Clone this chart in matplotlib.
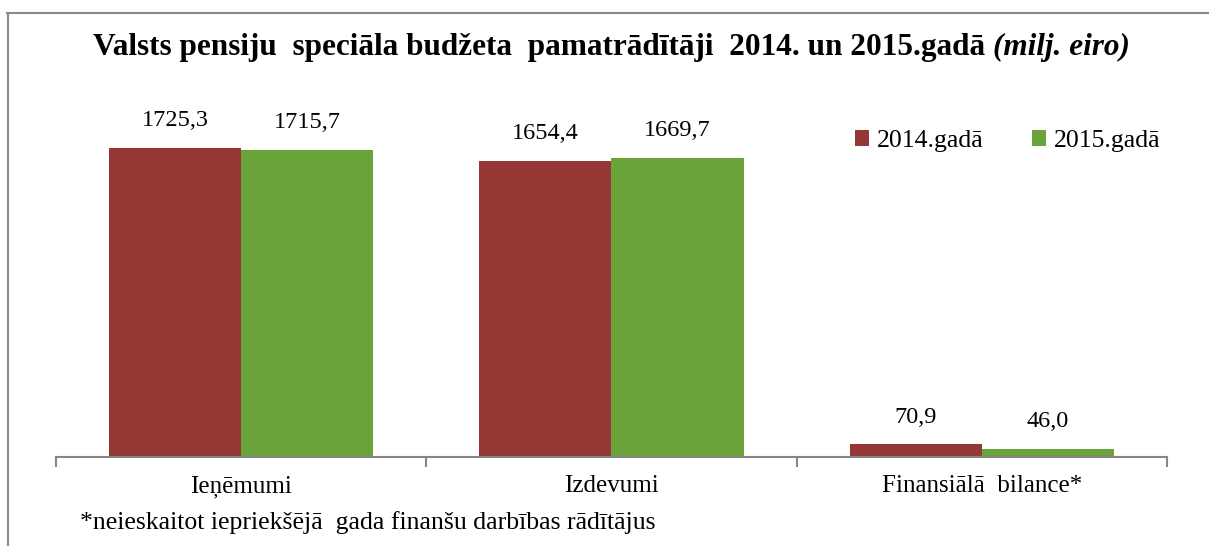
import matplotlib
matplotlib.use("Agg")
from matplotlib import pyplot as plt
from matplotlib.lines import Line2D
import numpy as np

categories = ["Ieņēmumi", "Izdevumi", "Finansiālā  bilance*"]
series_names = ["2014.gadā", "2015.gadā"]
values_2014 = [1725.3, 1654.4, 70.9]
values_2015 = [1715.7, 1669.7, 46.0]
colors = ["#953735", "#6aa339"]

title_main = "Valsts pensiju  speciāla budžeta  pamatrādītāji  2014. un 2015.gadā "
title_unit = "(milj. eiro)"
footnote = "*neieskaitot iepriekšējā  gada finanšu darbības rādītājus"

W, H = 1209, 546
plt.rcParams['font.family'] = ['Liberation Serif', 'DejaVu Serif']

fig = plt.figure(figsize=(W / 100, H / 100), dpi=100)
fig.patch.set_facecolor("white")

# plot area in pixel coords
left, right, base = 56, 1167, 457
ymax = 2000
px_per_unit = (457 - 148) / 1725.3
ax = fig.add_axes([left / W, (H - base) / H, (right - left) / W, ymax * px_per_unit / H])

x = np.arange(len(categories))
w = 132 / 370
b1 = ax.bar(x - w / 2, values_2014, w, color=colors[0], label=series_names[0])
b2 = ax.bar(x + w / 2, values_2015, w, color=colors[1], label=series_names[1])

for bars, vals in ((b1, values_2014), (b2, values_2015)):
    for r, v in zip(bars, vals):
        ax.annotate(("%.1f" % v).replace(".", ","), (r.get_x() + r.get_width() / 2, v),
                    xytext=(0, 19.5), textcoords="offset points",
                    ha="center", va="center", fontsize=17.5)

ax.set_xlim(-0.5, len(categories) - 0.5)
ax.set_ylim(0, ymax)
for s in ("top", "right", "left"):
    ax.spines[s].set_visible(False)
ax.spines["bottom"].set_color("#878787")
ax.spines["bottom"].set_linewidth(1.5)
ax.set_yticks([])
ax.set_xticks(np.arange(-0.5, len(categories), 1.0))
ax.set_xticklabels([])
ax.tick_params(axis="x", which="major", length=7, width=1.5, color="#878787", direction="out")
ax.set_xticks(x, minor=True)
ax.set_xticklabels(categories, minor=True, fontsize=18)
ax.tick_params(axis="x", which="minor", length=0, pad=13)

leg = ax.legend(loc="center left", bbox_to_anchor=(855 / W, 1 - 141 / H),
                bbox_transform=fig.transFigure, ncol=2, frameon=False,
                fontsize=18.5, handlelength=0.55, handleheight=0.55,
                handletextpad=0.3, columnspacing=1.9, borderpad=0, borderaxespad=0)

# title in two parts: bold, then bold italic
t1 = fig.text(93 / W, 1 - 47 / H, title_main, fontsize=22.5, fontweight="bold",
              ha="left", va="center")
fig.canvas.draw()
bb = t1.get_window_extent()
fig.text(bb.x1 / W, 1 - 47 / H, title_unit, fontsize=22.5, fontweight="bold",
         fontstyle="italic", ha="left", va="center")

fig.text(80 / W, 1 - 523 / H, footnote, fontsize=18.5, ha="left", va="center")

# frame lines (top and left only)
fig.add_artist(Line2D([7 / W, 1], [1 - 12.5 / H, 1 - 12.5 / H], transform=fig.transFigure,
                      color="#8a8a8a", lw=1.5))
fig.add_artist(Line2D([8 / W, 8 / W], [0, 1 - 12.5 / H], transform=fig.transFigure,
                      color="#8a8a8a", lw=1.5))

plt.savefig("out.png", dpi=100)
